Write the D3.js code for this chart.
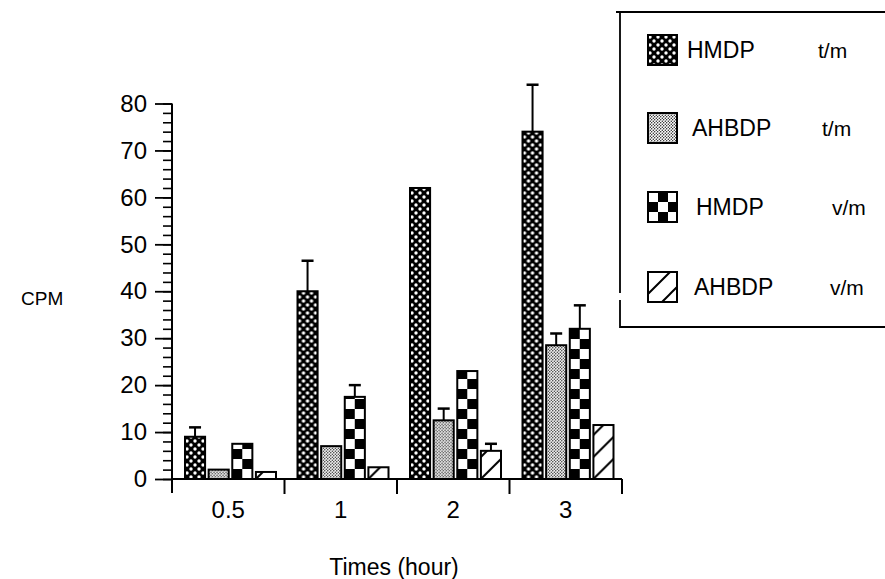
<!DOCTYPE html>
<html>
<head>
<meta charset="utf-8">
<script src="https://cdn.jsdelivr.net/npm/d3@7"></script>
<style>
  body { margin: 0; background: #fff; }
  svg { display: block; font-family: "Liberation Sans", Arial, Helvetica, sans-serif; }
</style>
</head>
<body>
<script>
// data
var categories = ["0.5", "1", "2", "3"];
var seriesKeys = ["hmdpTM", "ahbdpTM", "hmdpVM", "ahbdpVM"];
var seriesNames = ["HMDP", "AHBDP", "HMDP", "AHBDP"];
var seriesUnits = ["t/m", "t/m", "v/m", "v/m"];

var hmdpTM     = [9, 40, 62, 74];
var hmdpTMErr  = [2, 6.5, 0, 10];
var ahbdpTM    = [2, 7, 12.5, 28.5];
var ahbdpTMErr = [0, 0, 2.5, 2.5];
var hmdpVM     = [7.5, 17.5, 23, 32];
var hmdpVMErr  = [0, 2.5, 0, 5];
var ahbdpVM    = [1.5, 2.5, 6, 11.5];
var ahbdpVMErr = [0, 0, 1.5, 0];

var yMajorTicks = [0, 10, 20, 30, 40, 50, 60, 70, 80];

var values = { hmdpTM: hmdpTM, ahbdpTM: ahbdpTM, hmdpVM: hmdpVM, ahbdpVM: ahbdpVM };
var errors = { hmdpTM: hmdpTMErr, ahbdpTM: ahbdpTMErr, hmdpVM: hmdpVMErr, ahbdpVM: ahbdpVMErr };

var width = 885, height = 579;

var svg = d3.select("body").append("svg")
    .attr("width", width)
    .attr("height", height);

// fill patterns
var defs = svg.append("defs");

var p1 = defs.append("pattern").attr("id", "pat-hmdpTM")
    .attr("patternUnits", "userSpaceOnUse").attr("width", 8).attr("height", 8);
p1.append("rect").attr("width", 8).attr("height", 8).attr("fill", "#000");
p1.append("circle").attr("cx", 2).attr("cy", 2).attr("r", 1.7).attr("fill", "#fff");
p1.append("circle").attr("cx", 6).attr("cy", 6).attr("r", 1.7).attr("fill", "#fff");

var p2 = defs.append("pattern").attr("id", "pat-ahbdpTM")
    .attr("patternUnits", "userSpaceOnUse").attr("width", 3).attr("height", 3);
p2.append("rect").attr("width", 3).attr("height", 3).attr("fill", "#fff");
p2.append("circle").attr("cx", 0.75).attr("cy", 0.75).attr("r", 0.65).attr("fill", "#000");
p2.append("circle").attr("cx", 2.25).attr("cy", 2.25).attr("r", 0.65).attr("fill", "#000");

var p3 = defs.append("pattern").attr("id", "pat-hmdpVM")
    .attr("patternUnits", "userSpaceOnUse").attr("width", 20).attr("height", 20);
p3.append("rect").attr("width", 20).attr("height", 20).attr("fill", "#fff");
p3.append("rect").attr("x", 10).attr("y", 0).attr("width", 10).attr("height", 10).attr("fill", "#000");
p3.append("rect").attr("x", 0).attr("y", 10).attr("width", 10).attr("height", 10).attr("fill", "#000");

var p4 = defs.append("pattern").attr("id", "pat-ahbdpVM")
    .attr("patternUnits", "userSpaceOnUse").attr("width", 22).attr("height", 22);
p4.append("rect").attr("width", 22).attr("height", 22).attr("fill", "#fff");
p4.append("path").attr("d", "M-2,24 L24,-2 M-2,2 L2,-2 M20,24 L24,20")
    .attr("stroke", "#000").attr("stroke-width", 2);

// scales
var x0 = d3.scaleBand().domain(categories).range([172, 622]);
var x1 = d3.scaleBand().domain(seriesKeys).range([13, 104]).paddingInner(0.15);
var y = d3.scaleLinear().domain([0, 80]).range([479, 103.5]);

// y axis: minor ticks every 2, major every 10
var yMinor = d3.axisLeft(y).tickValues(d3.range(0, 81, 2)).tickSize(9).tickFormat("");
svg.append("g").attr("transform", "translate(172,0)").call(yMinor)
    .call(function(g) { g.select(".domain").remove(); })
    .selectAll("line").attr("stroke", "#000").attr("stroke-width", 1.6);

var yAxis = d3.axisLeft(y).tickValues(yMajorTicks).tickSize(17).tickPadding(8);
var gy = svg.append("g").attr("transform", "translate(172,0)").call(yAxis);
gy.select(".domain").remove();
gy.selectAll("line").attr("stroke", "#000").attr("stroke-width", 1.8);
gy.selectAll("text").attr("font-size", 24).attr("fill", "#000")
    .attr("font-family", "'Liberation Sans', Arial, sans-serif");
gy.append("line").attr("x1", 0).attr("x2", 0).attr("y1", y(80)).attr("y2", 493)
    .attr("stroke", "#000").attr("stroke-width", 2);

// x axis: ticks at band edges, labels centred in bands
var gx = svg.append("g").attr("transform", "translate(0,479)");
gx.append("line").attr("x1", 172).attr("x2", 622).attr("stroke", "#000").attr("stroke-width", 2);
gx.selectAll(".edge").data(categories.slice(1).concat(["end"])).enter()
    .append("line")
    .attr("x1", function(d) { return d === "end" ? 622 : x0(d); })
    .attr("x2", function(d) { return d === "end" ? 622 : x0(d); })
    .attr("y1", 0).attr("y2", 15)
    .attr("stroke", "#000").attr("stroke-width", 2);
gx.selectAll(".lab").data(categories).enter()
    .append("text")
    .attr("x", function(d) { return x0(d) + x0.bandwidth() / 2; })
    .attr("y", 39)
    .attr("text-anchor", "middle")
    .attr("font-size", 24)
    .text(function(d) { return d; });

// bars
var groups = svg.append("g").selectAll("g")
    .data(categories).enter()
    .append("g")
    .attr("transform", function(d) { return "translate(" + x0(d) + ",0)"; });

groups.each(function(cat, ci) {
    var g = d3.select(this);
    seriesKeys.forEach(function(k) {
        var v = values[k][ci];
        var bx = x1(k), bw = x1.bandwidth();
        var bar = g.append("g").attr("transform", "translate(" + bx + "," + y(0) + ")");
        bar.append("rect")
            .attr("x", 0).attr("y", y(v) - y(0))
            .attr("width", bw).attr("height", y(0) - y(v))
            .attr("fill", "url(#pat-" + k + ")")
            .attr("stroke", "#000").attr("stroke-width", 2);
        var e = errors[k][ci];
        if (e > 0) {
            var cx = bx + bw / 2;
            g.append("line").attr("x1", cx).attr("x2", cx)
                .attr("y1", y(v)).attr("y2", y(v + e))
                .attr("stroke", "#000").attr("stroke-width", 2);
            g.append("line").attr("x1", cx - 6).attr("x2", cx + 6)
                .attr("y1", y(v + e)).attr("y2", y(v + e))
                .attr("stroke", "#000").attr("stroke-width", 2.5);
        }
    });
});

// axis titles
svg.append("text").attr("x", 21).attr("y", 305).attr("font-size", 19).text("CPM");
svg.append("text").attr("x", 394).attr("y", 575).attr("text-anchor", "middle")
    .attr("font-size", 23).text("Times (hour)");

// legend box (open on the right, small break on left edge)
svg.append("path")
    .attr("d", "M616,12 L885,12 M620,12 L620,293 M620,300 L620,327 L885,327")
    .attr("fill", "none").attr("stroke", "#000").attr("stroke-width", 1.8);

var legRowY = [50, 128, 207, 287];
var legTextX = [687, 692, 696, 694];
var legUnitX = [818, 822, 832, 830];
var leg = svg.append("g").selectAll("g")
    .data(seriesKeys).enter()
    .append("g")
    .attr("transform", function(d, i) { return "translate(648," + (legRowY[i] - 15) + ")"; });
leg.append("rect").attr("width", 29).attr("height", 30)
    .attr("fill", function(d) { return "url(#pat-" + d + ")"; })
    .attr("stroke", "#000").attr("stroke-width", 2);
svg.append("g").selectAll("text").data(seriesKeys).enter()
    .append("text")
    .attr("x", function(d, i) { return legTextX[i]; })
    .attr("y", function(d, i) { return legRowY[i] + 8; })
    .attr("font-size", 23)
    .text(function(d, i) { return seriesNames[i]; });
svg.append("g").selectAll("text").data(seriesKeys).enter()
    .append("text")
    .attr("x", function(d, i) { return legUnitX[i]; })
    .attr("y", function(d, i) { return legRowY[i] + 8; })
    .attr("font-size", 21)
    .text(function(d, i) { return seriesUnits[i]; });
</script>
</body>
</html>
